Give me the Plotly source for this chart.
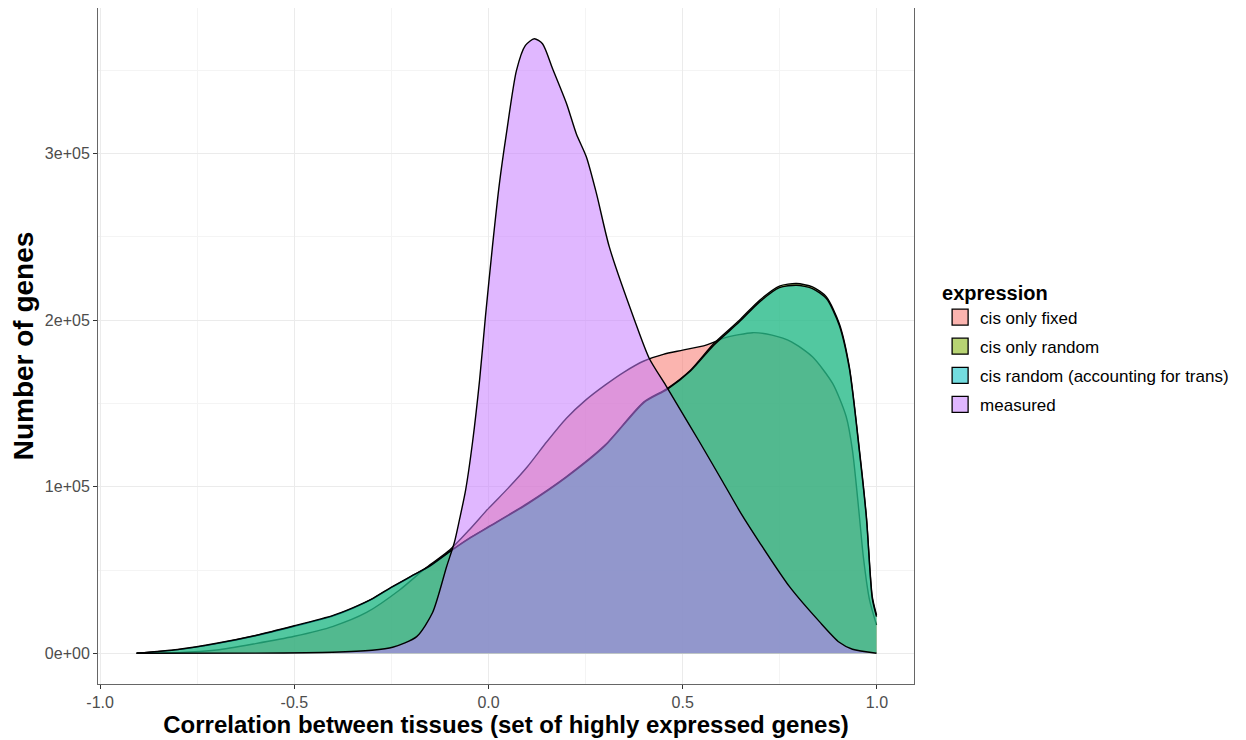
import plotly.graph_objects as go

# ---------------- data ----------------
series_names = ["cis only fixed", "cis only random",
                "cis random (accounting for trans)", "measured"]

fixed_x = [-0.906, -0.8, -0.7, -0.6, -0.5, -0.4, -0.314, -0.229, -0.16, -0.1,
           -0.05, 0.0, 0.05, 0.1, 0.15, 0.2, 0.25, 0.3, 0.35, 0.4,
           0.45, 0.5, 0.56, 0.61, 0.68, 0.73, 0.78, 0.834, 0.886, 0.921,
           0.937, 0.955, 0.965, 0.981, 0.999]
fixed_y = [0, 400, 2000, 5800, 10200, 16200, 24500, 38000, 51500, 62000,
           74000, 87000, 99000, 112000, 127000, 141000, 152000, 161000, 169000, 175500,
           179500, 182000, 185000, 189500, 192500, 191000, 187000, 178000, 162000, 142000,
           122000, 82000, 58000, 32000, 17000]

random_x = [-0.906, -0.8, -0.7, -0.6, -0.5, -0.4, -0.35, -0.3, -0.25, -0.2,
            -0.15, -0.1, -0.05, 0.0, 0.1, 0.2, 0.3, 0.4, 0.46, 0.52,
            0.58, 0.646, 0.698, 0.749, 0.793, 0.834, 0.870, 0.903, 0.929, 0.955,
            0.973, 0.988, 0.999]
random_y = [0, 2200, 5800, 10500, 16200, 22500, 27000, 32500, 39500, 46000,
            52500, 61000, 69000, 76000, 90000, 106000, 125000, 151000, 159000, 170000,
            186000, 200000, 212000, 220500, 222000, 220000, 214000, 198000, 172000, 122000,
            82000, 34000, 23000]

trans_x = [-0.906, -0.8, -0.7, -0.6, -0.5, -0.4, -0.35, -0.3, -0.25, -0.2,
           -0.15, -0.1, -0.05, 0.0, 0.1, 0.2, 0.3, 0.4, 0.46, 0.52,
           0.58, 0.646, 0.698, 0.749, 0.793, 0.834, 0.870, 0.903, 0.929, 0.955,
           0.973, 0.988, 0.999]
trans_y = [0, 2300, 6000, 10700, 16500, 22800, 27300, 32700, 39700, 46200,
           52600, 61000, 68800, 75700, 89600, 105600, 124600, 150500, 158500, 169500,
           185000, 199000, 211000, 219500, 221000, 219000, 213000, 197000, 171000, 121000,
           81000, 33000, 22000]

measured_x = [-0.906, -0.6, -0.4015, -0.3, -0.247, -0.185, -0.144, -0.108, -0.088, -0.075,
              -0.059, -0.041, -0.023, -0.008, 0.010, 0.028, 0.046, 0.072, 0.095, 0.118,
              0.139, 0.165, 0.201, 0.226, 0.252, 0.278, 0.311, 0.376, 0.414, 0.456,
              0.484, 0.543, 0.603, 0.65, 0.698, 0.775, 0.852, 0.903, 0.937, 0.999]
measured_y = [0, 100, 600, 1800, 3600, 10000, 24500, 52000, 66500, 80000,
              98000, 127000, 164000, 202000, 244000, 282000, 312000, 350000, 365000, 369000,
              366000, 351000, 330000, 312000, 298000, 276000, 244000, 200000, 177000, 161000,
              150000, 127000, 103000, 84000, 66500, 40000, 19000, 6600, 2400, 0]

fill_colors = ["rgba(248,118,109,0.55)", "rgba(124,174,0,0.55)",
               "rgba(0,191,196,0.55)", "rgba(199,124,255,0.55)"]

x_ticks = [-1.0, -0.5, 0.0, 0.5, 1.0]
x_tick_labels = ["-1.0", "-0.5", "0.0", "0.5", "1.0"]
y_ticks = [0, 100000, 200000, 300000]
y_tick_labels = ["0e+00", "1e+05", "2e+05", "3e+05"]

x_title = "Correlation between tissues (set of highly expressed genes)"
y_title = "Number of genes"
legend_title = "expression"

# ---------------- figure ----------------
FONT = "Liberation Sans, Arial, Helvetica, sans-serif"

fig = go.Figure()

all_x = [fixed_x, random_x, trans_x, measured_x]
all_y = [fixed_y, random_y, trans_y, measured_y]

for name, xs, ys, col in zip(series_names, all_x, all_y, fill_colors):
    fig.add_trace(go.Scatter(
        x=xs, y=ys, mode="lines", fill="tozeroy", fillcolor=col,
        line=dict(color="black", width=1.4, shape="spline", smoothing=0.7),
        name=name, showlegend=False, hoverinfo="skip"))

# legend-only keys (square swatches with black outline)
for i, (name, col) in enumerate(zip(series_names, fill_colors)):
    fig.add_trace(go.Scatter(
        x=[None], y=[None], mode="markers", name=name,
        marker=dict(symbol="square", size=16, color=col,
                    line=dict(color="black", width=1.3)),
        legendgroup=f"g{i}", showlegend=True))

axis_font = dict(family=FONT, size=16, color="#4D4D4D")

fig.update_layout(
    width=1246, height=740,
    margin=dict(l=90, r=340, t=0, b=64),
    plot_bgcolor="white", paper_bgcolor="white",
    font=dict(family=FONT, color="black"),
    legend=dict(
        title=dict(text="<b>" + legend_title + "</b>", font=dict(size=20, color="black", family=FONT)),
        font=dict(size=17, color="black", family=FONT),
        x=1.032, xanchor="left", y=0.497, yanchor="middle",
        tracegroupgap=4, itemwidth=30, itemsizing="trace",
        bgcolor="rgba(0,0,0,0)"),
    xaxis=dict(
        range=[-1.0055, 1.0955],
        tickvals=x_ticks, ticktext=x_tick_labels,
        tickfont=axis_font,
        ticks="outside", ticklen=4, tickcolor="#333333",
        showgrid=True, gridcolor="#EBEBEB", gridwidth=1.1,
        minor=dict(dtick=0.25, tick0=-1.0, showgrid=True, gridcolor="#F4F4F4", gridwidth=0.6),
        zeroline=False, showline=True, linecolor="#666666", linewidth=1, mirror=True,
        title=dict(text="<b>" + x_title + "</b>", font=dict(size=24, color="black", family=FONT), standoff=0),
    ),
    yaxis=dict(
        range=[-18450, 387450],
        tickvals=y_ticks, ticktext=y_tick_labels,
        tickfont=axis_font,
        ticks="outside", ticklen=4, tickcolor="#333333",
        showgrid=True, gridcolor="#EBEBEB", gridwidth=1.1,
        minor=dict(dtick=50000, tick0=0, showgrid=True, gridcolor="#F4F4F4", gridwidth=0.6),
        zeroline=False, showline=True, linecolor="#666666", linewidth=1, mirror=True,
        title=dict(text="<b>" + y_title + "</b>", font=dict(size=28, color="black", family=FONT), standoff=11),
    ),
)

fig.write_html("out.html")
